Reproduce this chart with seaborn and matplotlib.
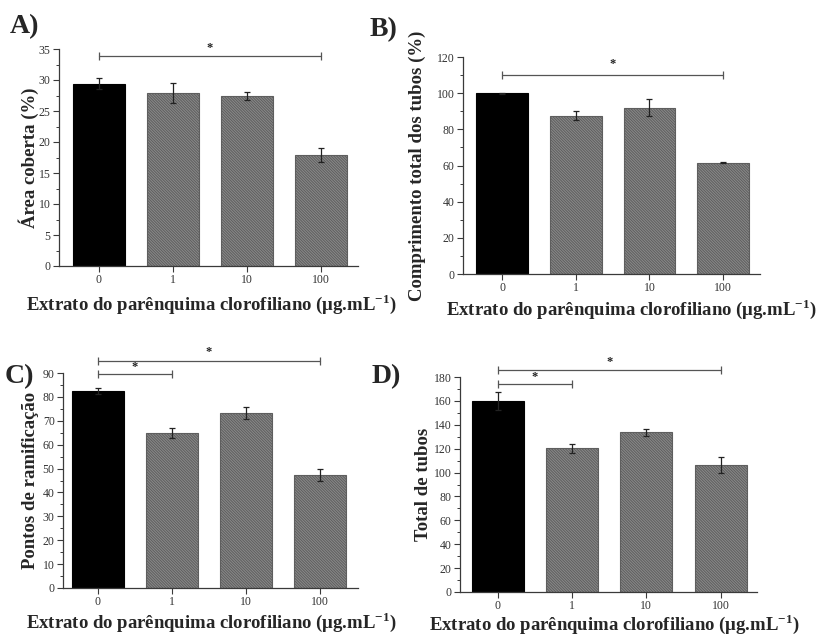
import numpy as np
import pandas as pd
import matplotlib
matplotlib.use("Agg")
import matplotlib.pyplot as plt
from matplotlib.ticker import MultipleLocator
import seaborn as sns

# ---------------- data ----------------
categories = ["0", "1", "10", "100"]

area = [29.4, 27.9, 27.4, 17.9]
area_err = [0.85, 1.6, 0.6, 1.1]

comprimento = [100.0, 87.6, 92.0, 61.5]
comprimento_err = [0.2, 2.5, 4.9, 0.3]

pontos = [82.5, 64.9, 73.4, 47.4]
pontos_err = [1.4, 1.9, 2.5, 2.5]

tubos = [160.0, 120.3, 133.7, 106.3]
tubos_err = [7.5, 4.0, 3.0, 7.0]

panel_letters = ["A)", "B)", "C)", "D)"]
ylabels = ["Área coberta (%)", "Comprimento total dos tubos (%)",
           "Pontos de ramificação", "Total de tubos"]
xlabel = r"Extrato do parênquima clorofiliano (μg.mL$^{\mathbf{-1}}$)"

# significance brackets: (start, end, height, star height)
sig_A = [(0, 3, 33.9, 35.2)]
sig_B = [(0, 3, 110, 116)]
sig_C = [(0, 1, 89.5, 92.5), (0, 3, 95.2, 98.8)]
sig_D = [(0, 1, 174, 180), (0, 3, 186, 192.5)]

# ---------------- style ----------------
sns.set_theme(style="ticks")
plt.rcParams["font.family"] = ["Liberation Serif", "DejaVu Serif"]
plt.rcParams["mathtext.fontset"] = "custom"
plt.rcParams["mathtext.rm"] = "Liberation Serif"
plt.rcParams["mathtext.bf"] = "Liberation Serif:bold"
plt.rcParams["hatch.linewidth"] = 0.7

fig = plt.figure(figsize=(8.17, 6.35), dpi=100)
W, H = 817, 635


def axes_px(l, t, r, b):
    return fig.add_axes([l / W, 1 - b / H, (r - l) / W, (b - t) / H])


panels = [
    dict(box=(59, 49, 358, 266), vals=area, err=area_err, ylim=35, major=5,
         xlim=(-0.54, 3.5), sig=sig_A, letter=(10, 33),
         xl=(211, 304), yl=29),
    dict(box=(463, 57, 760, 274), vals=comprimento, err=comprimento_err, ylim=120,
         major=20, xlim=(-0.53, 3.5), sig=sig_B, letter=(370, 36),
         xl=(631, 309), yl=417),
    dict(box=(63, 373, 358, 588), vals=pontos, err=pontos_err, ylim=90,
         major=10, xlim=(-0.47, 3.51), sig=sig_C, letter=(5, 383),
         xl=(211, 622), yl=31),
    dict(box=(460, 377, 757, 592), vals=tubos, err=tubos_err, ylim=180,
         major=20, xlim=(-0.51, 3.49), sig=sig_D, letter=(372, 383),
         xl=(614, 624), yl=424),
]

axcol = "#3a3a3a"
for i, p in enumerate(panels):
    l, t, r, b = p["box"]
    ax = axes_px(l, t, r, b)
    df = pd.DataFrame({"dose": categories, "valor": p["vals"]})
    sns.barplot(data=df, x="dose", y="valor", order=categories, ax=ax,
                width=0.7, color="#8c8c8c", errorbar=None,
                edgecolor="#4d4d4d", linewidth=0.8)
    for j, patch in enumerate(ax.patches):
        if j == 0:
            patch.set_facecolor("black")
            patch.set_edgecolor("black")
        else:
            patch.set_facecolor("#8a8a8a")
            patch.set_edgecolor("#5e5e5e")
            patch.set_hatch("\\" * 12)
    ax.errorbar(np.arange(len(categories)), p["vals"], yerr=p["err"],
                fmt="none", ecolor="#222222", elinewidth=0.9, capsize=2.5,
                capthick=0.9, zorder=5)
    ax.set_xlim(*p["xlim"])
    ax.set_ylim(0, p["ylim"])
    ax.yaxis.set_major_locator(MultipleLocator(p["major"]))
    ax.yaxis.set_minor_locator(MultipleLocator(p["major"] / 2))
    sns.despine(ax=ax)
    for s in ["left", "bottom"]:
        ax.spines[s].set_color(axcol)
        ax.spines[s].set_linewidth(0.9)
    ax.tick_params(axis="both", which="major", direction="out", length=4,
                   width=0.8, color=axcol, labelsize=8.5, labelcolor="#333333",
                   pad=2)
    ax.tick_params(axis="y", which="minor", direction="out", length=2,
                   width=0.7, color=axcol)
    ax.set_ylabel(ylabels[i], fontsize=13.5, fontweight="bold")
    ax.set_xlabel(xlabel, fontsize=13.5, fontweight="bold")
    axw, axh = r - l, b - t
    ax.xaxis.set_label_coords((p["xl"][0] - l) / axw, (b - p["xl"][1]) / axh)
    ax.xaxis.label.set_verticalalignment("center")
    ax.yaxis.set_label_coords((p["yl"] - l) / axw, 0.5)
    ax.yaxis.label.set_verticalalignment("center")

    for (x0, x1, yb, ys) in p["sig"]:
        ax.plot([x0, x1], [yb, yb], color="#555555", lw=0.9, clip_on=False,
                marker="|", markersize=6, markeredgewidth=0.9)
        ax.text((x0 + x1) / 2, ys, "*", ha="center", va="center",
                fontsize=9, fontweight="bold", color="#222222", clip_on=False)

    fig.text(p["letter"][0] / W, 1 - p["letter"][1] / H, panel_letters[i],
             fontsize=20, fontweight="bold", ha="left", va="baseline")

fig.savefig("out.png", dpi=100)
